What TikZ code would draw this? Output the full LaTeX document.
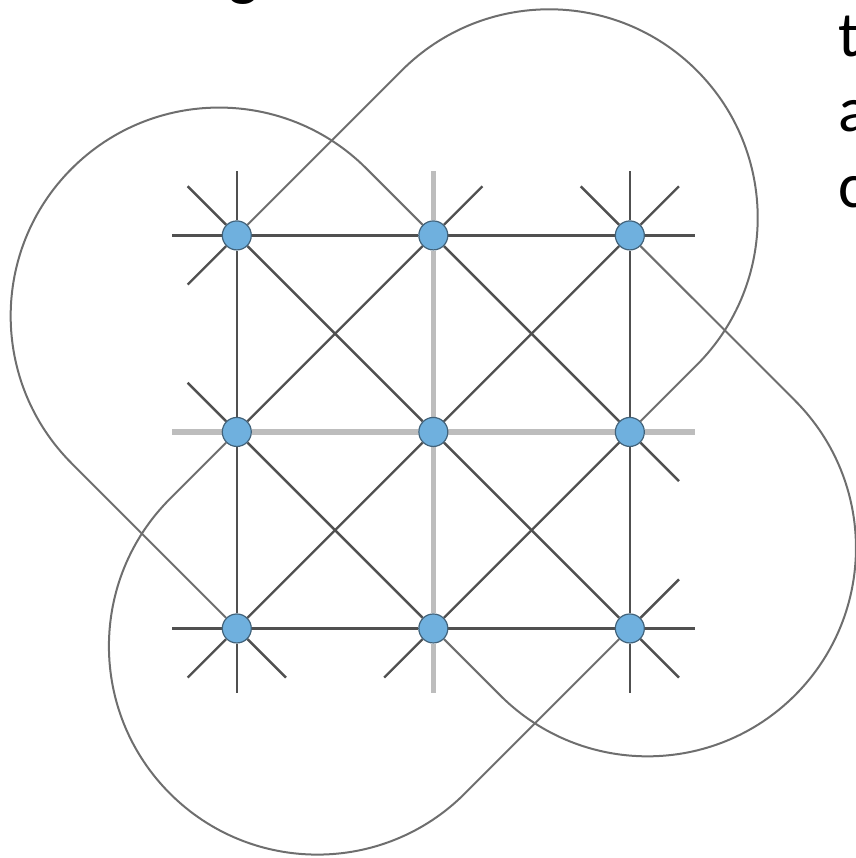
\documentclass[tikz,border=0pt]{standalone}
\usepackage{fontspec}
\newfontfamily\slidefont{Carlito}
\usetikzlibrary{calc}
\pgfdeclarelayer{bg}
\pgfsetlayers{bg,main}
\definecolor{nodefill}{HTML}{6FB0DE}
\definecolor{nodeedge}{HTML}{41627A}
\definecolor{darkedge}{HTML}{505050}
\definecolor{lightedge}{HTML}{BDBDBD}
\definecolor{loopedge}{HTML}{6E6E6E}
\begin{document}
\begin{tikzpicture}[x=98.25pt,y=98.25pt,
  vertex/.style={circle,fill=nodefill,draw=nodeedge,line width=0.6pt,minimum size=14.5pt,inner sep=0pt},
  edge/.style={draw=darkedge,line width=1.2pt},
  midedge/.style={draw=lightedge,line width=2.6pt},
  wrap/.style={draw=loopedge,line width=1pt},
  letter/.style={anchor=base west,inner sep=0pt,font=\slidefont\fontsize{32pt}{38pt}\selectfont}]
\useasboundingbox (-2.205,-2.168) rectangle (2.146,2.198);
\def\o{0.33}
\def\d{0.25}
\def\r{1.0607}
% vertices
\node[vertex] (TL) at (-1,1) {};
\node[vertex] (TM) at (0,1) {};
\node[vertex] (TR) at (1,1) {};
\node[vertex] (ML) at (-1,0) {};
\node[vertex] (MM) at (0,0) {};
\node[vertex] (MR) at (1,0) {};
\node[vertex] (BL) at (-1,-1) {};
\node[vertex] (BM) at (0,-1) {};
\node[vertex] (BR) at (1,-1) {};
\coordinate (c1) at (0.59,1.09);
\coordinate (c2) at (-1.09,0.59);
\coordinate (c3) at (-0.59,-1.09);
\coordinate (c4) at (1.09,-0.59);
\begin{pgfonlayer}{bg}
% wrap-around loops
\draw[wrap] (TL) -- ($(c1)+(135:\r)$) arc[start angle=135,end angle=-45,radius=\r] -- (MR);
\draw[wrap] (TM) -- ($(c2)+(45:\r)$) arc[start angle=45,end angle=225,radius=\r] -- (BL);
\draw[wrap] (ML) -- ($(c3)+(135:\r)$) arc[start angle=135,end angle=315,radius=\r] -- (BR);
\draw[wrap] (BM) -- ($(c4)+(225:\r)$) arc[start angle=225,end angle=405,radius=\r] -- (TR);
% light middle row and column
\draw[midedge] (ML) -- (MM);
\draw[midedge] (MM) -- (MR);
\draw[midedge] (TM) -- (MM);
\draw[midedge] (MM) -- (BM);
\draw[midedge] (ML) -- ++(-\o,0);
\draw[midedge] (MR) -- ++(\o,0);
\draw[midedge] (TM) -- ++(0,\o);
\draw[midedge] (BM) -- ++(0,-\o);
% dark grid edges
\draw[edge] (TL) -- (TM);
\draw[edge] (TM) -- (TR);
\draw[edge] (BL) -- (BM);
\draw[edge] (BM) -- (BR);
\draw[edge] (TL) -- (ML);
\draw[edge] (ML) -- (BL);
\draw[edge] (TR) -- (MR);
\draw[edge] (MR) -- (BR);
\draw[edge] (TL) -- (MM);
\draw[edge] (MM) -- (BR);
\draw[edge] (TR) -- (MM);
\draw[edge] (MM) -- (BL);
\draw[edge] (TM) -- (MR);
\draw[edge] (MR) -- (BM);
\draw[edge] (BM) -- (ML);
\draw[edge] (ML) -- (TM);
% stubs
\draw[edge] (TL) -- ++(0,\o);
\draw[edge] (TL) -- ++(-\o,0);
\draw[edge] (TL) -- ++(-\d,\d);
\draw[edge] (TL) -- ++(-\d,-\d);
\draw[edge] (TM) -- ++(\d,\d);
\draw[edge] (TR) -- ++(0,\o);
\draw[edge] (TR) -- ++(\o,0);
\draw[edge] (TR) -- ++(-\d,\d);
\draw[edge] (TR) -- ++(\d,\d);
\draw[edge] (ML) -- ++(-\d,\d);
\draw[edge] (MR) -- ++(\d,-\d);
\draw[edge] (BL) -- ++(-\o,0);
\draw[edge] (BL) -- ++(0,-\o);
\draw[edge] (BL) -- ++(-\d,-\d);
\draw[edge] (BL) -- ++(\d,-\d);
\draw[edge] (BM) -- ++(-\d,-\d);
\draw[edge] (BR) -- ++(\o,0);
\draw[edge] (BR) -- ++(0,-\o);
\draw[edge] (BR) -- ++(\d,\d);
\draw[edge] (BR) -- ++(\d,-\d);
\end{pgfonlayer}
% cut-off text
\node[letter] (g) at (-1.045,2.229) {g};
\node[letter] (t) at (2.06,1.908) {t};
\node[letter] (a) at (2.06,1.527) {a};
\node[letter] (c) at (2.06,1.140) {c};
\end{tikzpicture}
\end{document}
